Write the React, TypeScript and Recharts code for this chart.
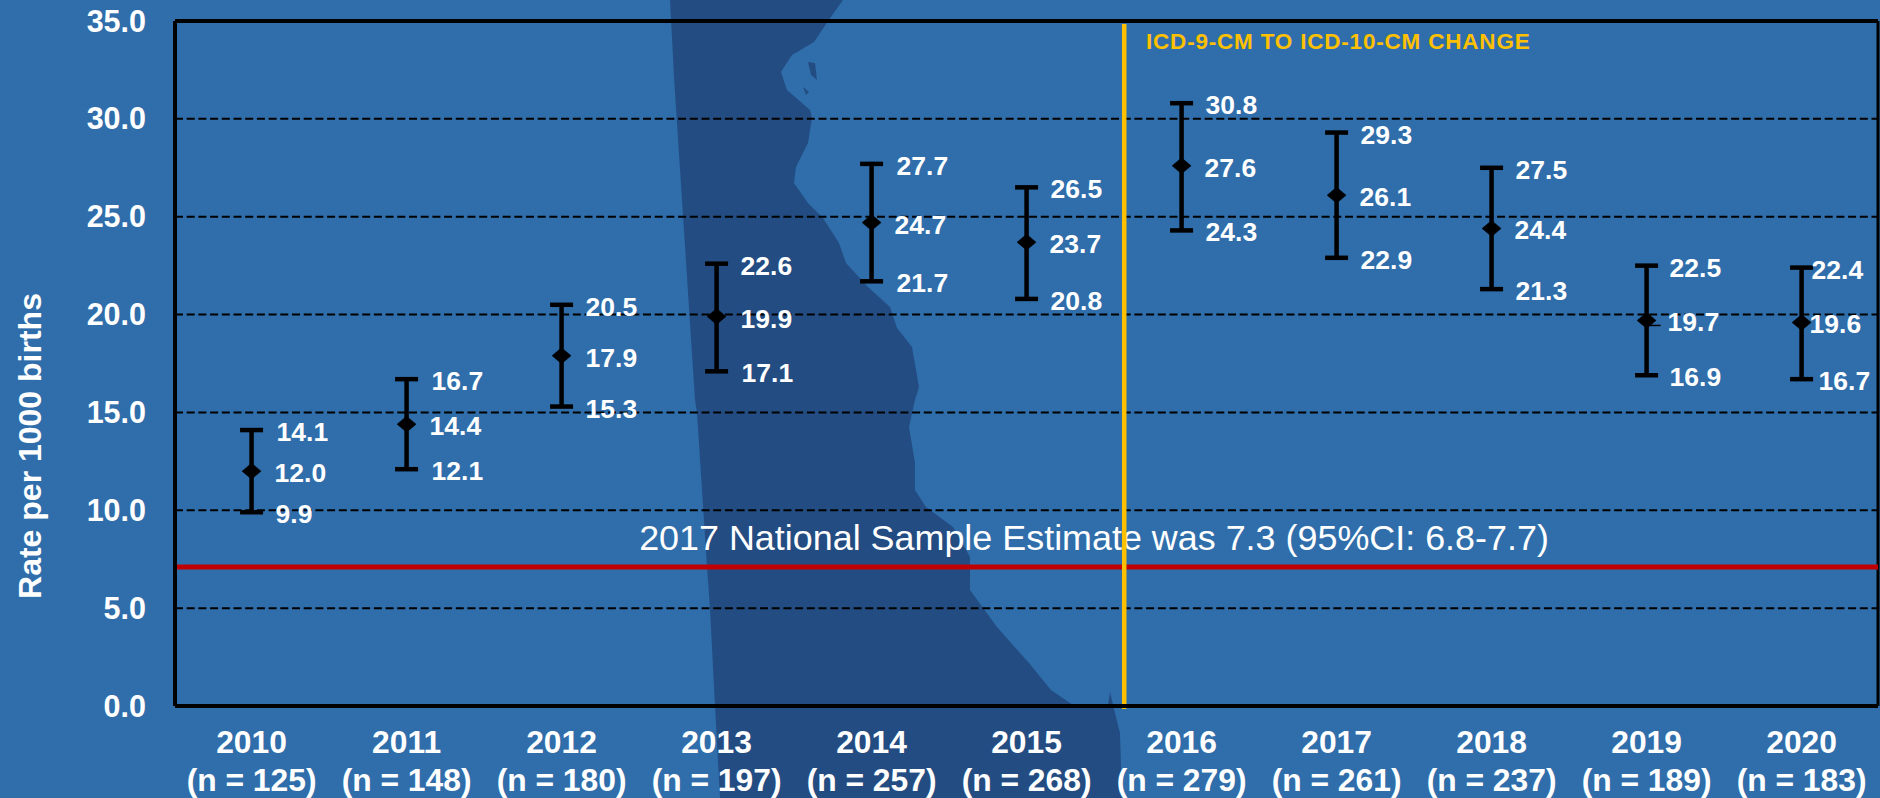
import React from "react";
import {
  ComposedChart,
  Line,
  XAxis,
  YAxis,
  CartesianGrid,
  ErrorBar,
  LabelList,
  ReferenceLine,
} from "recharts";

const years = [2010, 2011, 2012, 2013, 2014, 2015, 2016, 2017, 2018, 2019, 2020];
const sampleSizes = [125, 148, 180, 197, 257, 268, 279, 261, 237, 189, 183];
const rates = [12.0, 14.4, 17.9, 19.9, 24.7, 23.7, 27.6, 26.1, 24.4, 19.7, 19.6];
const lower = [9.9, 12.1, 15.3, 17.1, 21.7, 20.8, 24.3, 22.9, 21.3, 16.9, 16.7];
const upper = [14.1, 16.7, 20.5, 22.6, 27.7, 26.5, 30.8, 29.3, 27.5, 22.5, 22.4];
const yTicks = [0, 5, 10, 15, 20, 25, 30, 35];
const gridValues = [5, 10, 15, 20, 25, 30];
const nationalEstimateLine = 7.1;
const codeChangeYear = 2015.63;
const nationalText = "2017 National Sample Estimate was 7.3 (95%CI: 6.8-7.7)";
const changeText = "ICD-9-CM TO ICD-10-CM CHANGE";
const yTitle = "Rate per 1000 births";

const upperDx = [25, 25, 24, 24, 25, 24, 24, 24, 24, 23, 10];
const rateDx = [23, 23, 24, 24, 23, 23, 23, 23, 23, 21, 8];
const lowerDx = [24, 25, 24, 25, 25, 24, 24, 24, 24, 23, 17];

const BG = "#2F6EAB";
const MAP = "#234D82";
const FONT = "'Liberation Sans', Arial, sans-serif";

const mapOutline = [
  [670, 0], [843, 0], [828, 21], [814, 42], [792, 55], [781, 72], [787, 90], [810, 110], [812, 118],
  [808, 143], [796, 167], [794, 183], [808, 203], [823, 218], [839, 243], [846, 263], [868, 287],
  [890, 307], [897, 328], [912, 347], [919, 387], [915, 400], [909, 427], [915, 463], [915, 490],
  [926, 507], [953, 527], [970, 557], [970, 590], [997, 627], [1029, 663], [1051, 690], [1073, 705],
  [1108, 705], [1110, 692], [1113, 705], [1120, 733], [1122, 798], [720, 798], [715, 706], [710, 609],
  [707, 567], [697, 413], [695, 400], [674, 77],
];
const mapIslandA = [[808, 62], [815, 63], [817, 80], [811, 75]];
const mapIslandB = [[803, 87], [809, 92], [806, 95]];
const pts = (p: number[][]) => p.map((q) => q.join(",")).join(" ");

const data = years.map((year, i) => ({
  year,
  rate: rates[i],
  lower: lower[i],
  upper: upper[i],
  ci: [rates[i] - lower[i], upper[i] - rates[i]],
  i,
}));

const Diamond = (props: any) => {
  const { cx, cy } = props;
  return (
    <path
      key={cx}
      d={`M${cx - 9.5},${cy}L${cx},${cy - 8}L${cx + 9.5},${cy}L${cx},${cy + 8}Z`}
      fill="#000"
      stroke="#000"
      strokeWidth={0.5}
      strokeLinejoin="round"
    />
  );
};

const makeLabel = (dx: number[], leader?: boolean) => (props: any) => {
  const { x, y, index, value } = props;
  return (
    <g>
      {leader && index === 9 ? (
        <line x1={x} x2={x + 14} y1={y + 5} y2={y + 5} stroke="#000" strokeWidth={1.5} />
      ) : null}
      <text
        x={x + dx[index]}
        y={y + 2}
        fill="#fff"
        fontFamily={FONT}
        fontWeight={700}
        fontSize={26.5}
        dominantBaseline="central"
      >
        {Number(value).toFixed(1)}
      </text>
    </g>
  );
};

const XTick = (props: any) => {
  const { x, payload } = props;
  const i = years.indexOf(payload.value);
  return (
    <g fill="#fff" fontFamily={FONT} fontWeight={700} fontSize={31.8} textAnchor="middle">
      <text x={x} y={742} dominantBaseline="central">{payload.value}</text>
      <text x={x} y={780} dominantBaseline="central">{`(n = ${sampleSizes[i]})`}</text>
    </g>
  );
};

const YTick = (props: any) => {
  const { y, payload } = props;
  return (
    <text
      x={146}
      y={y - 0.5}
      fill="#fff"
      fontFamily={FONT}
      fontWeight={700}
      fontSize={30.5}
      textAnchor="end"
      dominantBaseline="central"
    >
      {Number(payload.value).toFixed(1)}
    </text>
  );
};

const YTitle = () => (
  <text
    transform="translate(30,446) rotate(-90)"
    fill="#fff"
    fontFamily={FONT}
    fontWeight={700}
    fontSize={32}
    textAnchor="middle"
    dominantBaseline="central"
  >
    {yTitle}
  </text>
);

const NationalLabel = () => (
  <text
    x={1094}
    y={538}
    fill="#fff"
    fontFamily={FONT}
    fontSize={35.9}
    textAnchor="middle"
    dominantBaseline="central"
  >
    {nationalText}
  </text>
);

const ChangeLabel = () => (
  <text
    x={1146}
    y={41}
    fill="#FFC000"
    fontFamily={FONT}
    fontWeight={700}
    fontSize={22.5}
    letterSpacing={0.8}
    dominantBaseline="central"
  >
    {changeText}
  </text>
);

export default function App() {
  return (
    <div style={{ position: "absolute", left: 0, top: 0, width: 1880, height: 798, background: BG, overflow: "hidden" }}>
      <svg width={1880} height={798} style={{ position: "absolute", left: 0, top: 0 }}>
        <polygon points={pts(mapOutline)} fill={MAP} />
        <polygon points={pts(mapIslandA)} fill={MAP} />
        <polygon points={pts(mapIslandB)} fill={MAP} />
      </svg>
      <div style={{ position: "absolute", left: 0, top: 0 }}>
        <ComposedChart
          width={1880}
          height={798}
          data={data}
          margin={{ top: 21, right: 2, bottom: 0, left: 0 }}
        >
          <CartesianGrid
            horizontal
            vertical={false}
            horizontalValues={gridValues}
            stroke="#000"
            strokeWidth={2}
            strokeDasharray="8 3.7"
          />
          <XAxis
            dataKey="year"
            type="number"
            domain={[2009.506, 2020.493]}
            ticks={years}
            allowDecimals={false}
            tick={<XTick />}
            tickLine={false}
            interval={0}
            axisLine={{ stroke: "#000", strokeWidth: 4 }}
            height={92}
          />
          <YAxis
            type="number"
            domain={[0, 35]}
            ticks={yTicks}
            width={175}
            tick={<YTick />}
            tickLine={false}
            interval={0}
            axisLine={{ stroke: "#000", strokeWidth: 4 }}
            label={<YTitle />}
          />
          <ReferenceLine y={35} stroke="#000" strokeWidth={4} />
          <ReferenceLine x={2020.493} stroke="#000" strokeWidth={3} />
          <ReferenceLine y={nationalEstimateLine} stroke="#C00000" strokeWidth={5} label={<NationalLabel />} />
          <ReferenceLine
            segment={[
              { x: codeChangeYear, y: -0.15 },
              { x: codeChangeYear, y: 34.85 },
            ]}
            ifOverflow="visible"
            stroke="#FFC000"
            strokeWidth={4.5}
            label={<ChangeLabel />}
          />
          <Line dataKey="upper" stroke="none" dot={false} activeDot={false} legendType="none" isAnimationActive={false}>
            <LabelList dataKey="upper" content={makeLabel(upperDx)} />
          </Line>
          <Line dataKey="lower" stroke="none" dot={false} activeDot={false} legendType="none" isAnimationActive={false}>
            <LabelList dataKey="lower" content={makeLabel(lowerDx)} />
          </Line>
          <Line dataKey="rate" stroke="none" dot={<Diamond />} activeDot={false} legendType="none" isAnimationActive={false}>
            <ErrorBar dataKey="ci" direction="y" width={11.5} stroke="#000" strokeWidth={4.5} isAnimationActive={false} />
            <LabelList dataKey="rate" content={makeLabel(rateDx, true)} />
          </Line>
        </ComposedChart>
      </div>
    </div>
  );
}
